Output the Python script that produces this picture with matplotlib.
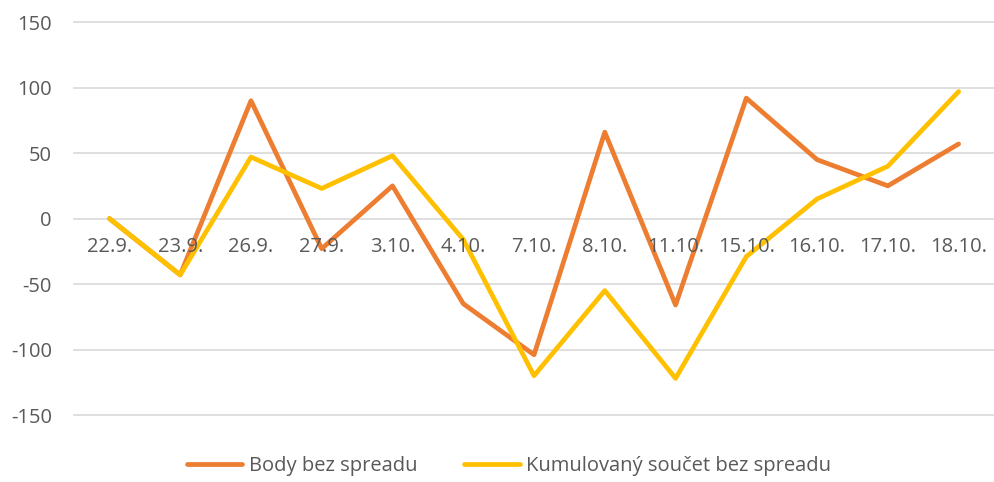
import matplotlib.pyplot as plt
import matplotlib.transforms as mtransforms

dates = ['22.9.', '23.9.', '26.9.', '27.9.', '3.10.', '4.10.', '7.10.', '8.10.',
         '11.10.', '15.10.', '16.10.', '17.10.', '18.10.']
body = [0, -43, 90, -23, 25, -65, -104, 66, -66, 92, 45, 25, 57]
kumul = [0, -43, 47, 23, 48, -16, -120, -55, -122, -29, 15, 40, 97]
yticks = [-150, -100, -50, 0, 50, 100, 150]

txt = '#595959'
fs = 14.5
plt.rcParams['font.family'] = ['Open Sans', 'DejaVu Sans']

fig = plt.figure(figsize=(9.94, 4.82), dpi=100)
ax = fig.add_axes([0.0745, 0.139, 0.9255, 0.815])

x = list(range(len(dates)))
l1, = ax.plot(x, body, color='#ED7D31', lw=3.4, solid_joinstyle='round',
              solid_capstyle='round', label='Body bez spreadu', zorder=3)
l2, = ax.plot(x, kumul, color='#FFC000', lw=3.4, solid_joinstyle='round',
              solid_capstyle='round', label='Kumulovaný součet bez spreadu', zorder=3)

ax.set_xlim(-0.5, len(dates) - 0.5)
ax.set_ylim(-150, 150)
ax.set_yticks(yticks)
ax.set_yticklabels([str(v) for v in yticks], color=txt, fontsize=fs)
ax.set_xticks([])
ax.tick_params(axis='y', length=0, pad=16)
ax.grid(axis='y', color='#D9D9D9', lw=1.2)
for gl in ax.get_ygridlines():
    gl.set_clip_on(False)
ax.set_axisbelow(True)
for s in ax.spines.values():
    s.set_visible(False)

# category labels sit next to the zero line, like Excel does
off = mtransforms.offset_copy(ax.transData, fig=fig, x=0, y=-28, units='dots')
for i, d in enumerate(dates):
    ax.text(i, 0, d, transform=off, ha='center', va='center', color=txt, fontsize=fs)

fig.legend(handles=[l1, l2], loc='center', bbox_to_anchor=(0.512, 0.033),
           ncol=2, frameon=False, fontsize=fs, labelcolor=txt,
           handlelength=2.75, columnspacing=2.35, handletextpad=0.3)

fig.savefig('out.png', dpi=100)
